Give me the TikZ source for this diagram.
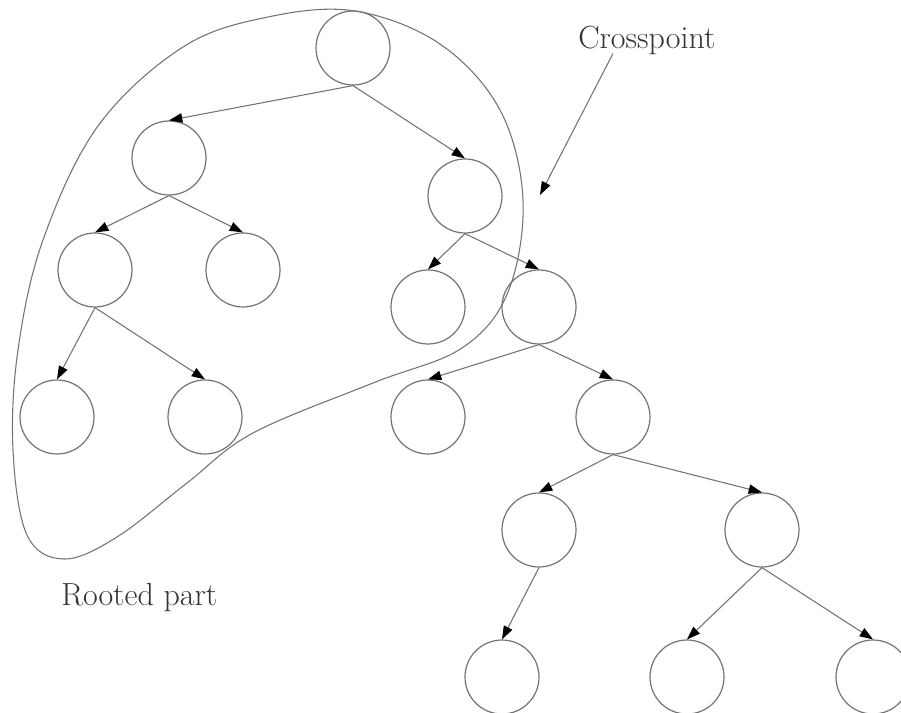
\documentclass[tikz,border=0pt]{standalone}
\usetikzlibrary{arrows.meta,calc}
\begin{document}
\begin{tikzpicture}[x=0.75pt,y=-0.75pt,
  vert/.style={circle,draw=black!55,line width=0.9pt,minimum size=55.5pt,inner sep=0pt},
  edge/.style={draw=black!55,line width=0.8pt,-{Triangle[length=10pt,width=7pt,black]}},
  lbl/.style={text=black!80,font=\fontsize{24}{28}\selectfont,inner sep=0pt}]
\useasboundingbox (0,0) rectangle (901,713);
% tree vertices
\node[vert] (r)   at (353,48)  {};
\node[vert] (a)   at (169,158) {};
\node[vert] (b)   at (465,196) {};
\node[vert] (aa)  at (95,270)  {};
\node[vert] (ab)  at (243,270) {};
\node[vert] (ba)  at (428,307) {};
\node[vert] (bb)  at (539,307) {};
\node[vert] (aaa) at (57,417)  {};
\node[vert] (aab) at (205,417) {};
\node[vert] (bba) at (428,417) {};
\node[vert] (bbb) at (613,417) {};
\node[vert] (c1)  at (539,530) {};
\node[vert] (c2)  at (762,530) {};
\node[vert] (d1)  at (502,677) {};
\node[vert] (d2)  at (687,677) {};
\node[vert] (d3)  at (873,677) {};
% tree edges
\foreach \p/\c in {r/a,r/b,a/aa,a/ab,aa/aaa,aa/aab,b/ba,b/bb,bb/bba,bb/bbb,bbb/c1,bbb/c2,c1/d1,c2/d2,c2/d3}
  \draw[edge] (\p.south) -- (\c.north);
% outline of the rooted part
\draw[black!55,line width=0.8pt] plot[smooth cycle,tension=0.6] coordinates {
  (355,11) (440,44) (500,110) (523,200) (508,292) (462,348) (373,383)
  (253,433) (187,483) (117,537) (64,559) (27,535) (13,450) (18,350)
  (43,240) (98,126) (183,47) (268,17)};
% labels
\node[lbl,anchor=base west] (cross) at (578,49) {Crosspoint};
\node[lbl,anchor=base west] (rooted) at (61,605) {Rooted part};
\coordinate (ctip) at (540,195);
\draw[edge] ($(cross.south west)+(35,-2)$) -- (ctip);
\end{tikzpicture}
\end{document}
